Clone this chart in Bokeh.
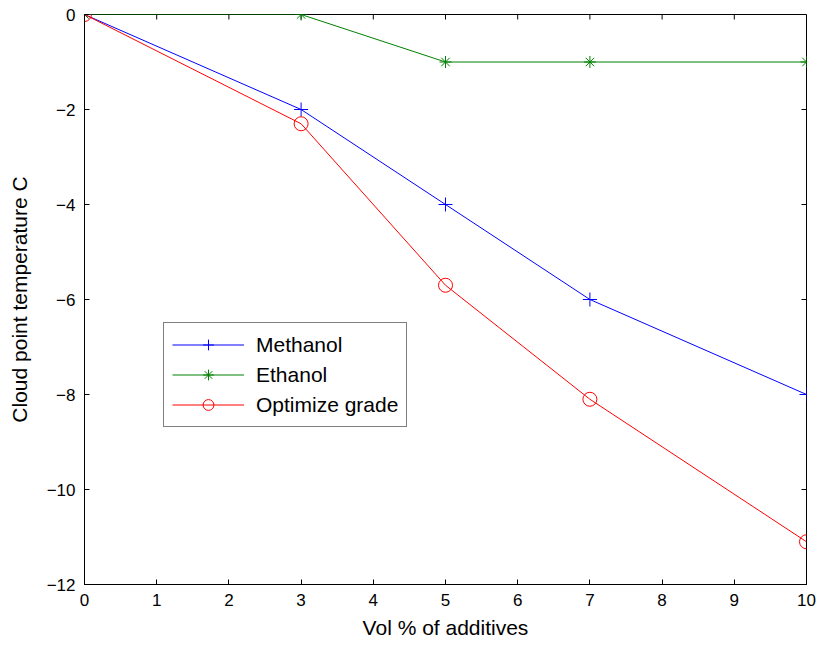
from bokeh.plotting import figure
from bokeh.models import Range1d, Legend, LegendItem, FixedTicker
from bokeh.embed import file_html
from bokeh.resources import INLINE

vol = [0, 3, 5, 7, 10]
methanol = [0, -2, -4, -6, -8]
ethanol = [0, 0, -1, -1, -1]
optimize = [0, -2.3, -5.7, -8.1, -11.1]
x_ticks = list(range(0, 11))
y_ticks = [0, -2, -4, -6, -8, -10, -12]

FONT = "Liberation Sans"
TICK_FS = "17px"
LABEL_FS = "21px"

X0, X1, Y0, Y1 = 0, 10, -12, 0
FRAME_W, FRAME_H = 722, 570
TICK_PX = 5

p = figure(width=816, height=644, output_backend="svg", toolbar_location=None,
           x_range=Range1d(X0, X1), y_range=Range1d(Y0, Y1),
           min_border_left=84, min_border_top=14, min_border_right=10, min_border_bottom=60)
p.grid.visible = False
p.outline_line_color = "black"
p.outline_line_width = 1

for ax in (p.xaxis[0], p.yaxis[0]):
    ax.major_tick_in = TICK_PX
    ax.major_tick_out = 0
    ax.minor_tick_in = 0
    ax.minor_tick_out = 0
    ax.major_label_text_font = FONT
    ax.major_label_text_font_size = TICK_FS
    ax.major_label_text_color = "black"
    ax.axis_label_text_font = FONT
    ax.axis_label_text_font_size = LABEL_FS
    ax.axis_label_text_font_style = "normal"
    ax.axis_label_text_color = "black"
    ax.axis_line_color = "black"
p.xaxis[0].ticker = FixedTicker(ticks=x_ticks)
p.yaxis[0].ticker = FixedTicker(ticks=y_ticks)
p.xaxis[0].axis_label = "Vol % of additives"
p.yaxis[0].axis_label = "Cloud point temperature C"
p.xaxis[0].major_label_standoff = 9
p.yaxis[0].major_label_standoff = 9
p.xaxis[0].axis_label_standoff = 7
p.yaxis[0].axis_label_standoff = 13

# mirrored inward ticks on top and right edges (box style)
dx = (X1 - X0) * TICK_PX / FRAME_W
dy = (Y1 - Y0) * TICK_PX / FRAME_H
p.segment(x0=x_ticks, y0=[Y1] * len(x_ticks), x1=x_ticks, y1=[Y1 - dy] * len(x_ticks),
          line_color="black", line_width=1)
p.segment(x0=[X1] * len(y_ticks), y0=y_ticks, x1=[X1 - dx] * len(y_ticks), y1=y_ticks,
          line_color="black", line_width=1)

r_m = p.line(vol, methanol, line_color="blue", line_width=1)
s_m = p.scatter(vol, methanol, marker="cross", size=14, line_color="blue", fill_color=None)
r_e = p.line(vol, ethanol, line_color="green", line_width=1)
s_e = p.scatter(vol, ethanol, marker="asterisk", size=12, line_color="green", fill_color=None)
r_o = p.line(vol, optimize, line_color="red", line_width=1)
s_o = p.scatter(vol, optimize, marker="circle", size=14, line_color="red", fill_color=None)

legend = Legend(items=[
    LegendItem(label="Methanol", renderers=[r_m, s_m]),
    LegendItem(label="Ethanol", renderers=[r_e, s_e]),
    LegendItem(label="Optimize grade", renderers=[r_o, s_o]),
], location=(79, 157))
legend.label_text_font = FONT
legend.label_text_font_size = LABEL_FS
legend.label_text_color = "black"
legend.glyph_width = 72
legend.glyph_height = 27
legend.label_height = 27
legend.spacing = 3
legend.padding = 8
legend.margin = 0
legend.border_line_color = "black"
legend.label_standoff = 12
p.add_layout(legend, "center")

open("out.html", "w").write(file_html(p, INLINE))
